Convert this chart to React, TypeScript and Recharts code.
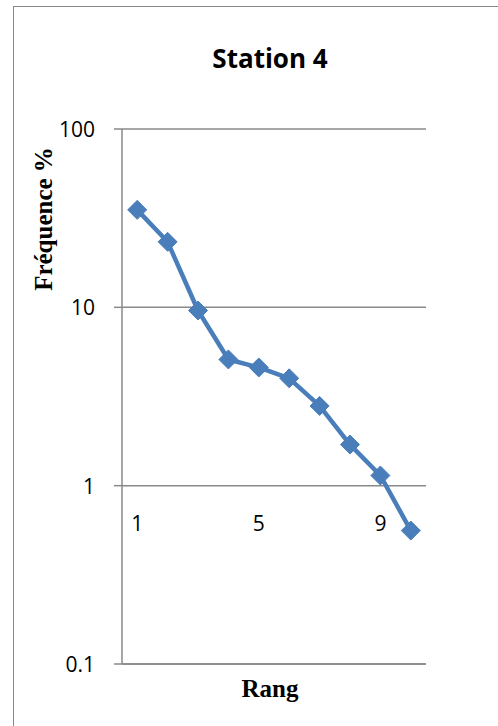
import { CartesianGrid, Line, LineChart, XAxis, YAxis } from 'recharts';

const ranks = ['1', '2', '3', '4', '5', '6', '7', '8', '9', '10'];
const frequencies = [35.2, 23.3, 9.6, 5.1, 4.6, 4.0, 2.8, 1.7, 1.14, 0.56];
const yTicks = [0.1, 1, 10, 100];

const data = ranks.map((rank, i) => ({ rank, freq: frequencies[i] }));

const W = 498;
const H = 726;
const PLOT_TOP = 129;
const PLOT_BOTTOM = 664;
const AXIS_GRAY = '#898989';
const BLUE = '#4A7EBB';
const TICK_FONT = '"Open Sans", "Noto Sans", sans-serif';
const SERIF = '"Liberation Serif", "DejaVu Serif", serif';

// the category axis crosses the log axis at 1 (one decade above the bottom)
const Y_AT_ONE = PLOT_TOP + ((PLOT_BOTTOM - PLOT_TOP) * 2) / 3;

function Diamond({ cx, cy }: { cx?: number; cy?: number }) {
  if (cx == null || cy == null) return null;
  const r = 9.5;
  return (
    <polygon
      points={`${cx},${cy - r} ${cx + r},${cy} ${cx},${cy + r} ${cx - r},${cy}`}
      fill={BLUE}
      stroke={BLUE}
      strokeWidth={1}
      strokeLinejoin="round"
    />
  );
}

function RankTick({ x, payload }: { x?: number; payload?: { value: string } }) {
  return (
    <text x={x} y={Y_AT_ONE + 37} textAnchor="middle" dominantBaseline="central" fontFamily={TICK_FONT} fontSize={21} fill="#000">
      {payload?.value}
    </text>
  );
}

function FreqTick({ x, y, payload }: { x?: number; y?: number; payload?: { value: number } }) {
  return (
    <text x={(x ?? 0) - 17} y={y} textAnchor="end" dominantBaseline="central" fontFamily={TICK_FONT} fontSize={21} fill="#000">
      {String(payload?.value)}
    </text>
  );
}

export default function App() {
  return (
    <div style={{ position: 'absolute', left: 0, top: 0, width: W, height: H, background: '#fff', overflow: 'hidden' }}>
      <div
        style={{
          position: 'absolute',
          left: 13,
          top: 6,
          width: 700,
          height: 900,
          borderLeft: `1.5px solid ${AXIS_GRAY}`,
          borderTop: `1.5px solid ${AXIS_GRAY}`,
        }}
      />
      <LineChart
        width={W}
        height={H}
        data={data}
        margin={{ top: PLOT_TOP, right: 72, bottom: 32, left: 0 }}
        style={{ position: 'absolute', left: 0, top: 0 }}
      >
        <CartesianGrid vertical={false} stroke={AXIS_GRAY} strokeWidth={1.5} />
        <XAxis
          dataKey="rank"
          height={30}
          interval={3}
          padding={{ left: 15.2, right: 15.2 }}
          tickLine={false}
          axisLine={{ stroke: AXIS_GRAY, strokeWidth: 1.5 }}
          tick={<RankTick />}
          label={{
            content: () => (
              <text x={270} y={697} textAnchor="middle" fontFamily={SERIF} fontWeight="bold" fontSize={25} fill="#000">
                Rang
              </text>
            ),
          }}
        />
        <YAxis
          scale="log"
          domain={[0.1, 100]}
          ticks={yTicks}
          allowDataOverflow
          width={122}
          tickSize={8}
          tickLine={{ stroke: AXIS_GRAY, strokeWidth: 1.5 }}
          axisLine={{ stroke: AXIS_GRAY, strokeWidth: 1.5 }}
          tick={<FreqTick />}
          label={{
            content: () => (
              <text
                x={43}
                y={219}
                transform="rotate(-90 43 219)"
                textAnchor="middle"
                dominantBaseline="central"
                fontFamily={SERIF}
                fontWeight="bold"
                fontSize={25}
                fill="#000"
              >
                Fréquence %
              </text>
            ),
          }}
        />
        <Line
          type="linear"
          dataKey="freq"
          stroke={BLUE}
          strokeWidth={4.5}
          strokeLinejoin="round"
          dot={<Diamond />}
          activeDot={false}
          isAnimationActive={false}
        />
      </LineChart>
      <svg width={W} height={H} style={{ position: 'absolute', left: 0, top: 0, pointerEvents: 'none' }}>
        <text x={270} y={68} textAnchor="middle" fontFamily={TICK_FONT} fontWeight="bold" fontSize={26} fill="#000">
          Station 4
        </text>
      </svg>
    </div>
  );
}
